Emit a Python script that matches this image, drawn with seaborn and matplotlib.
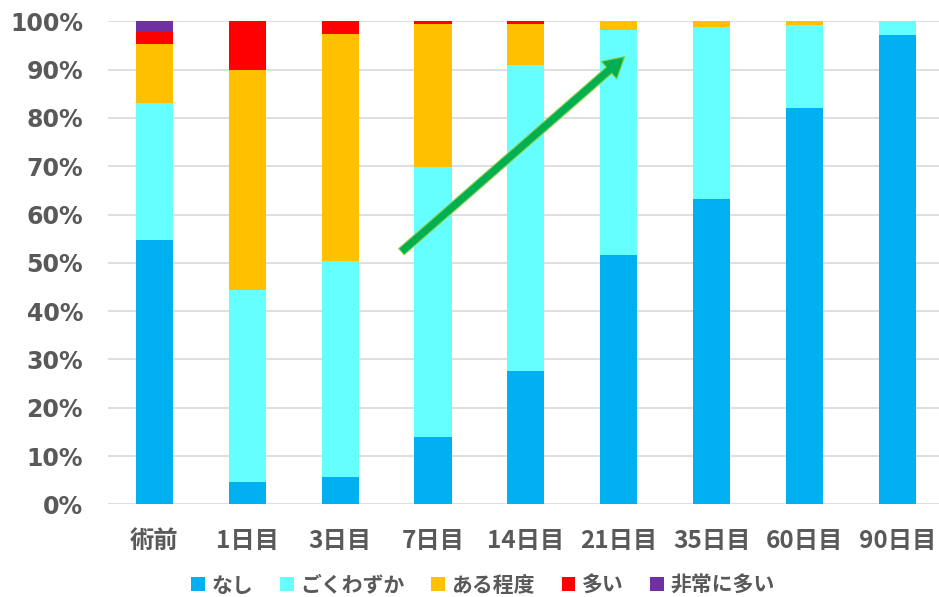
import numpy as np
import pandas as pd
import seaborn as sns
import matplotlib.pyplot as plt
from matplotlib.ticker import FuncFormatter

days = ["術前", "1日目", "3日目", "7日目", "14日目", "21日目", "35日目", "60日目", "90日目"]
series = ["なし", "ごくわずか", "ある程度", "多い", "非常に多い"]
colors = ["#00B0F0", "#66FFFF", "#FFC000", "#FF0000", "#7030A0"]

nashi = [54.7, 4.6, 5.7, 13.9, 27.6, 51.6, 63.2, 82.0, 97.1]
gokuwazuka = [28.4, 39.8, 44.6, 56.0, 63.4, 46.7, 35.6, 17.3, 2.9]
aruteido = [12.3, 45.6, 47.1, 29.5, 8.4, 1.7, 1.2, 0.7, 0.0]
ooi = [2.4, 10.0, 2.6, 0.6, 0.6, 0.0, 0.0, 0.0, 0.0]
hijouni = [2.2, 0.0, 0.0, 0.0, 0.0, 0.0, 0.0, 0.0, 0.0]

sns.set_theme(style="white")
plt.rcParams['font.family'] = ['DejaVu Sans', 'Noto Sans CJK JP']

tick_color = "#595959"

fig = plt.figure(figsize=(9.39, 5.97), dpi=100)
ax = fig.add_axes([108 / 939, 1 - 504.3 / 597, (939 - 108) / 939, 483 / 597])

df = pd.DataFrame({"day": days, "なし": nashi, "ごくわずか": gokuwazuka,
                   "ある程度": aruteido, "多い": ooi, "非常に多い": hijouni})

bottom = np.zeros(len(days))
for name, col in zip(series, colors):
    sns.barplot(data=df, x="day", y=name, order=days, color=col, bottom=bottom,
                width=0.4, errorbar=None, label=name, ax=ax, linewidth=0,
                saturation=1, zorder=3)
    bottom = bottom + df[name].values

ax.set_ylim(0, 100)
ax.set_xlim(-0.5, 8.45)
ax.set_yticks(np.arange(0, 101, 10))
ax.yaxis.set_major_formatter(FuncFormatter(lambda v, p: f"{int(v)}%"))
ax.grid(axis="y", color="#D9D9D9", linewidth=1.2, zorder=0)
ax.set_axisbelow(True)
for s in ax.spines.values():
    s.set_visible(False)
ax.set_xlabel("")
ax.set_ylabel("")
ax.tick_params(axis="y", length=0, pad=18, labelsize=17, labelcolor=tick_color)
ax.tick_params(axis="x", length=0, pad=18, labelsize=17.5, labelcolor=tick_color)
for lab in ax.get_xticklabels():
    lab.set_fontweight("bold")
    lab.set_family(['Noto Sans CJK JP', 'DejaVu Sans'])
for lab in ax.get_yticklabels():
    lab.set_fontweight("bold")
    lab.set_family(['DejaVu Sans', 'Noto Sans CJK JP'])

# green trend arrow
ax.annotate("", xy=(5.065, 92.7), xytext=(2.66, 52.3),
            arrowprops=dict(arrowstyle="simple,tail_width=0.3,head_width=0.85,head_length=0.75",
                            mutation_scale=20, fc="#00B050", ec="#92D050", lw=0.8,
                            shrinkA=0, shrinkB=0), zorder=5)

handles, labels = ax.get_legend_handles_labels()
if ax.legend_:
    ax.legend_.remove()
fig.legend(handles, labels, loc="center", bbox_to_anchor=(483 / 939, 1 - 585 / 597),
           ncol=5, frameon=False, handlelength=0.65, handleheight=0.65, handletextpad=0.3,
           columnspacing=1.3, prop={"family": ['Noto Sans CJK JP'], "weight": "bold", "size": 15},
           labelcolor=tick_color)

fig.savefig("out.png", dpi=100)
